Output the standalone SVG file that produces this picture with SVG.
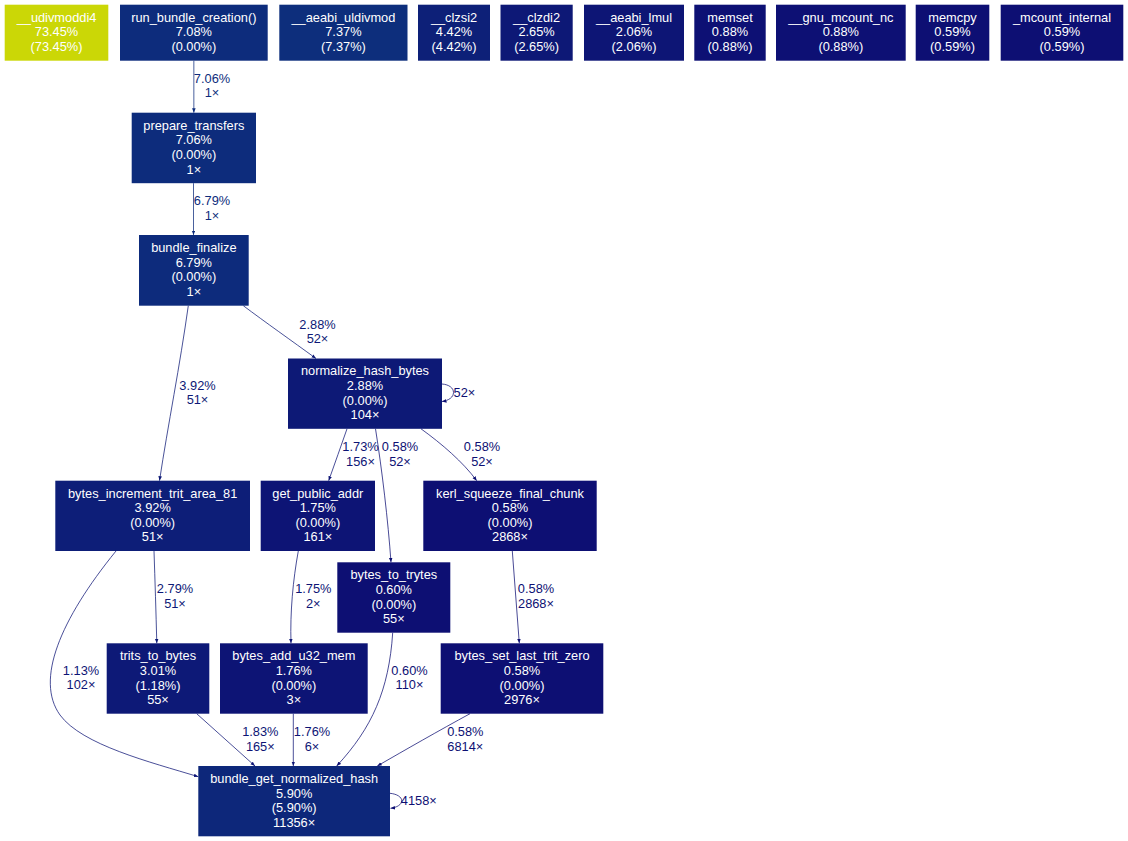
<svg xmlns="http://www.w3.org/2000/svg" width="1128" height="841" viewBox="0 0 1128 841">
<style>
text{font-family:"Liberation Sans",Arial,sans-serif;font-size:12.8px;text-anchor:middle}
.n text{fill:#ffffff}
.e path{fill:none;stroke-width:0.75}
.ca{stroke:#0d2c7c;fill:#0d2c7c}
.cb{stroke:#0d1976;fill:#0d1976}
.cc{stroke:#0d1475;fill:#0d1475}
.cd{stroke:#0d0f73;fill:#0d0f73}
.e path.ca{fill:none;marker-end:url(#ma)}
.e path.cb{fill:none;marker-end:url(#mb)}
.e path.cc{fill:none;marker-end:url(#mc)}
.e path.cd{fill:none;marker-end:url(#md)}
.e text{stroke:none}
</style>
<defs>
<marker id="ma" markerUnits="userSpaceOnUse" markerWidth="6" markerHeight="5" refX="4.5" refY="1.8" orient="auto"><path d="M0,0L4.5,1.8L0,3.6z" fill="#0d2c7c"/></marker>
<marker id="mb" markerUnits="userSpaceOnUse" markerWidth="6" markerHeight="5" refX="4.5" refY="1.8" orient="auto"><path d="M0,0L4.5,1.8L0,3.6z" fill="#0d1976"/></marker>
<marker id="mc" markerUnits="userSpaceOnUse" markerWidth="6" markerHeight="5" refX="4.5" refY="1.8" orient="auto"><path d="M0,0L4.5,1.8L0,3.6z" fill="#0d1475"/></marker>
<marker id="md" markerUnits="userSpaceOnUse" markerWidth="6" markerHeight="5" refX="4.5" refY="1.8" orient="auto"><path d="M0,0L4.5,1.8L0,3.6z" fill="#0d0f73"/></marker>
</defs>
<rect width="1128" height="841" fill="#ffffff"/>

<g id="connectors" class="e">
<path class="ca" d="M193.85,60.7L193.85,112.7"/>
<text class="ca" x="212" y="82.6">7.06%</text><text class="ca" x="212" y="97.2">1×</text>
<path class="ca" d="M193.5,183.2L193.5,235"/>
<text class="ca" x="212" y="205.3">6.79%</text><text class="ca" x="212" y="219.9">1×</text>
<path class="cb" d="M188.3,305.7C180,365 168,425 159.5,480.7"/>
<text class="cb" x="197.5" y="389.6">3.92%</text><text class="cb" x="197.5" y="404">51×</text>
<path class="cb" d="M243.3,305.7C265,322 292,341 316,358.5"/>
<text class="cb" x="317.5" y="328.6">2.88%</text><text class="cb" x="317.5" y="343">52×</text>
<path class="cd" d="M442,384C449,384.5 453.5,388 453.5,392.5C453.5,397 449,400.5 442,401.5"/>
<text class="cd" x="464.4" y="396.6">52×</text>
<path class="cc" d="M347,428.8C341,446 335,463 328.7,480.7"/>
<text class="cc" x="360.5" y="451.3">1.73%</text><text class="cc" x="360.5" y="465.7">156×</text>
<path class="cd" d="M375.5,428.8C382,470 388,520 391,562.3"/>
<text class="cd" x="400" y="451.3">0.58%</text><text class="cd" x="400" y="465.7">52×</text>
<path class="cd" d="M421,428.8C442,444 463,462 476.7,480.7"/>
<text class="cd" x="482" y="451.3">0.58%</text><text class="cd" x="482" y="465.7">52×</text>
<path class="cb" d="M154,551C155,580 156,612 156.8,643.3"/>
<text class="cb" x="175" y="593">2.79%</text><text class="cb" x="175" y="607.6">51×</text>
<path class="cc" d="M116,551C60,620 35,680 60,715C82,745 150,762 198.3,776.7"/>
<text class="cc" x="81" y="674.6">1.13%</text><text class="cc" x="81" y="689">102×</text>
<path class="cc" d="M298.3,551C293,580 290,612 291,643.3"/>
<text class="cc" x="313.3" y="593">1.75%</text><text class="cc" x="313.3" y="607.6">2×</text>
<path class="cd" d="M392.7,632.7C389,690 372,728 336.7,766"/>
<text class="cd" x="409.5" y="674.6">0.60%</text><text class="cd" x="409.5" y="689">110×</text>
<path class="cd" d="M512.3,551L519.3,643.3"/>
<text class="cd" x="536" y="593">0.58%</text><text class="cd" x="536" y="607.6">2868×</text>
<path class="cc" d="M196.7,713.7L255,766"/>
<text class="cc" x="260.3" y="736.3">1.83%</text><text class="cc" x="260.3" y="750.8">165×</text>
<path class="cc" d="M293.3,713.7L293.3,766"/>
<text class="cc" x="312" y="736.3">1.76%</text><text class="cc" x="312" y="750.8">6×</text>
<path class="cd" d="M470,713.7C440,730 405,750 377.3,766"/>
<text class="cd" x="465.3" y="736.3">0.58%</text><text class="cd" x="465.3" y="750.8">6814×</text>
<path class="cd" d="M390,793.3C397,794 401.7,797 401.7,800.8C401.7,804.5 397,807.5 390.5,808.3"/>
<text class="cd" x="418.8" y="805.3">4158×</text>
</g>

<g id="n_udivmoddi4" class="n"><rect x="4.7" y="4.7" width="103.6" height="56" fill="#cbd706"/>
<text x="56.5" y="21.8">__udivmoddi4</text><text x="56.5" y="36.4">73.45%</text><text x="56.5" y="51">(73.45%)</text></g>
<g id="n_run_bundle_creation" class="n"><rect x="120" y="4.7" width="147.7" height="56" fill="#0d2c7c"/>
<text x="193.85" y="21.8">run_bundle_creation()</text><text x="193.85" y="36.4">7.08%</text><text x="193.85" y="51">(0.00%)</text></g>
<g id="n_aeabi_uldivmod" class="n"><rect x="279.3" y="4.7" width="128.2" height="56" fill="#0d2e7c"/>
<text x="343.4" y="21.8">__aeabi_uldivmod</text><text x="343.4" y="36.4">7.37%</text><text x="343.4" y="51">(7.37%)</text></g>
<g id="n_clzsi2" class="n"><rect x="418" y="4.7" width="72" height="56" fill="#0d2078"/>
<text x="454" y="21.8">__clzsi2</text><text x="454" y="36.4">4.42%</text><text x="454" y="51">(4.42%)</text></g>
<g id="n_clzdi2" class="n"><rect x="500.5" y="4.7" width="72.2" height="56" fill="#0d1876"/>
<text x="536.6" y="21.8">__clzdi2</text><text x="536.6" y="36.4">2.65%</text><text x="536.6" y="51">(2.65%)</text></g>
<g id="n_aeabi_lmul" class="n"><rect x="584" y="4.7" width="100" height="56" fill="#0d1575"/>
<text x="634" y="21.8">__aeabi_lmul</text><text x="634" y="36.4">2.06%</text><text x="634" y="51">(2.06%)</text></g>
<g id="n_memset" class="n"><rect x="694.3" y="4.7" width="71.4" height="56" fill="#0d1074"/>
<text x="730" y="21.8">memset</text><text x="730" y="36.4">0.88%</text><text x="730" y="51">(0.88%)</text></g>
<g id="n_gnu_mcount_nc" class="n"><rect x="776" y="4.7" width="129.7" height="56" fill="#0d1074"/>
<text x="840.85" y="21.8">__gnu_mcount_nc</text><text x="840.85" y="36.4">0.88%</text><text x="840.85" y="51">(0.88%)</text></g>
<g id="n_memcpy" class="n"><rect x="915.7" y="4.7" width="73.6" height="56" fill="#0d0f73"/>
<text x="952.5" y="21.8">memcpy</text><text x="952.5" y="36.4">0.59%</text><text x="952.5" y="51">(0.59%)</text></g>
<g id="n_mcount_internal" class="n"><rect x="1000.7" y="4.7" width="122.6" height="56" fill="#0d0f73"/>
<text x="1062" y="21.8">_mcount_internal</text><text x="1062" y="36.4">0.59%</text><text x="1062" y="51">(0.59%)</text></g>

<g id="n_prepare_transfers" class="n"><rect x="131.7" y="112.7" width="124.3" height="70.5" fill="#0d2c7c"/>
<text x="193.85" y="129.75">prepare_transfers</text><text x="193.85" y="144.35">7.06%</text><text x="193.85" y="158.95">(0.00%)</text><text x="193.85" y="173.55">1×</text></g>
<g id="n_bundle_finalize" class="n"><rect x="139" y="235" width="109.7" height="70.7" fill="#0d2b7c"/>
<text x="193.85" y="252.15">bundle_finalize</text><text x="193.85" y="266.75">6.79%</text><text x="193.85" y="281.35">(0.00%)</text><text x="193.85" y="295.95">1×</text></g>
<g id="n_normalize_hash_bytes" class="n"><rect x="288" y="358.5" width="154" height="70.3" fill="#0d1976"/>
<text x="365" y="375.45">normalize_hash_bytes</text><text x="365" y="390.05">2.88%</text><text x="365" y="404.65">(0.00%)</text><text x="365" y="419.25">104×</text></g>
<g id="n_bytes_increment_trit_area_81" class="n"><rect x="55.3" y="480.7" width="194.7" height="70.3" fill="#0d1e78"/>
<text x="152.65" y="497.65">bytes_increment_trit_area_81</text><text x="152.65" y="512.25">3.92%</text><text x="152.65" y="526.85">(0.00%)</text><text x="152.65" y="541.45">51×</text></g>
<g id="n_get_public_addr" class="n"><rect x="260.7" y="480.7" width="114.3" height="70.3" fill="#0d1475"/>
<text x="317.85" y="497.65">get_public_addr</text><text x="317.85" y="512.25">1.75%</text><text x="317.85" y="526.85">(0.00%)</text><text x="317.85" y="541.45">161×</text></g>
<g id="n_kerl_squeeze_final_chunk" class="n"><rect x="423.3" y="480.7" width="173.4" height="70.3" fill="#0d0f73"/>
<text x="510" y="497.65">kerl_squeeze_final_chunk</text><text x="510" y="512.25">0.58%</text><text x="510" y="526.85">(0.00%)</text><text x="510" y="541.45">2868×</text></g>
<g id="n_bytes_to_trytes" class="n"><rect x="337.3" y="562.3" width="113" height="70.4" fill="#0d0f73"/>
<text x="393.8" y="579.3">bytes_to_trytes</text><text x="393.8" y="593.9">0.60%</text><text x="393.8" y="608.5">(0.00%)</text><text x="393.8" y="623.1">55×</text></g>
<g id="n_trits_to_bytes" class="n"><rect x="106.7" y="643.3" width="102.6" height="70.4" fill="#0d1977"/>
<text x="158" y="660.3">trits_to_bytes</text><text x="158" y="674.9">3.01%</text><text x="158" y="689.5">(1.18%)</text><text x="158" y="704.1">55×</text></g>
<g id="n_bytes_add_u32_mem" class="n"><rect x="220" y="643.3" width="147.7" height="70.4" fill="#0d1475"/>
<text x="293.85" y="660.3">bytes_add_u32_mem</text><text x="293.85" y="674.9">1.76%</text><text x="293.85" y="689.5">(0.00%)</text><text x="293.85" y="704.1">3×</text></g>
<g id="n_bytes_set_last_trit_zero" class="n"><rect x="440.7" y="643.3" width="162.6" height="70.4" fill="#0d0f73"/>
<text x="522" y="660.3">bytes_set_last_trit_zero</text><text x="522" y="674.9">0.58%</text><text x="522" y="689.5">(0.00%)</text><text x="522" y="704.1">2976×</text></g>
<g id="n_bundle_get_normalized_hash" class="n"><rect x="198.3" y="766" width="191.7" height="70.3" fill="#0d277a"/>
<text x="294.15" y="782.95">bundle_get_normalized_hash</text><text x="294.15" y="797.55">5.90%</text><text x="294.15" y="812.15">(5.90%)</text><text x="294.15" y="826.75">11356×</text></g>
</svg>
